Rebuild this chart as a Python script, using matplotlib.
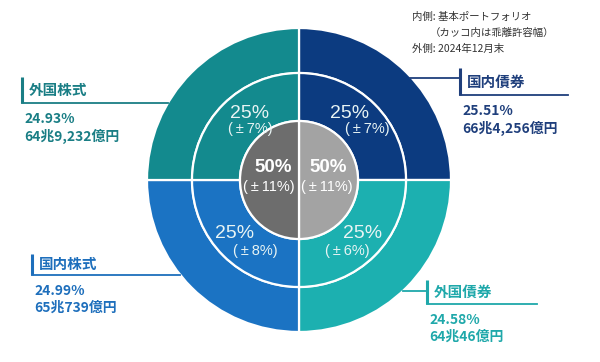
import matplotlib
matplotlib.use('Agg')
import matplotlib.pyplot as plt

plt.rcParams['font.family'] = ['Noto Sans CJK JP', 'DejaVu Sans']

# asset classes, clockwise from 12 o'clock
assets = ['国内債券', '外国債券', '国内株式', '外国株式']
policy = [25, 25, 25, 25]                  # basic portfolio (middle ring)
bands = ['±7%', '±6%', '±8%', '±7%']       # allowed deviation
actual_pct = ['25.51%', '24.58%', '24.99%', '24.93%']   # end of Dec 2024
actual_amt = ['66兆4,256億円', '64兆46億円', '65兆739億円', '64兆9,232億円']

# inner circle: bonds vs stocks
halves = [50, 50]
half_bands = ['±11%', '±11%']

colors = ['#0c3b80', '#1cb0b0', '#1b73c3', '#138a8e']
label_colors = ['#1f3f7c', '#1fa8aa', '#1e6fbc', '#1a7e85']
half_colors = ['#a3a3a3', '#6d6d6d']

W, H = 600, 362
cx, cy = 299, H - 180
r_out, r_mid, r_in = 152, 107, 59

fig = plt.figure(figsize=(6, 3.62), dpi=100)
ax = fig.add_axes([0, 0, 1, 1])

wp = dict(edgecolor='white', linewidth=1.6)
# outer ring drawn with equal quarters like the original
ax.pie(policy, radius=r_out, center=(cx, cy), colors=colors, startangle=90,
       counterclock=False, wedgeprops=dict(width=r_out - r_mid, **wp))
ax.pie(policy, radius=r_mid, center=(cx, cy), colors=colors, startangle=90,
       counterclock=False, wedgeprops=dict(width=r_mid - r_in, **wp))
ax.pie(halves, radius=r_in, center=(cx, cy), colors=half_colors, startangle=90,
       counterclock=False, wedgeprops=wp)

ax.set_xlim(0, W)
ax.set_ylim(0, H)
ax.set_aspect('equal')
ax.axis('off')

num_font = ['Liberation Sans', 'DejaVu Sans']
ring_txt = '#e8f4f4'
ts = '\u2009'


def band_text(b):
    return f'({ts}{b[0]}{ts}{b[1:]})'


# middle ring labels (x, y of "25%", x, y of band)
mid_pos = [(350, 113, 367, 129), (363, 233, 347, 251),
           (235, 233, 255, 251), (250, 113, 250, 129)]
for i in range(len(assets)):
    x1, y1, x2, y2 = mid_pos[i]
    ax.text(x1, H - y1, f'{policy[i]}%', color=ring_txt, fontsize=14,
            family=num_font, ha='center', va='center')
    ax.text(x2, H - y2, band_text(bands[i]), color=ring_txt,
            fontsize=10.5, family=num_font, ha='center', va='center')

half_pos = [(328, 167, 327, 187), (273, 167, 269, 187)]
for i in range(len(halves)):
    x1, y1, x2, y2 = half_pos[i]
    ax.text(x1, H - y1, f'{halves[i]}%', color='white', fontsize=13.5,
            family=num_font, fontweight='bold', ha='center', va='center')
    ax.text(x2, H - y2, band_text(half_bands[i]), color='white',
            fontsize=10.5, family=num_font, ha='center', va='center')

# callouts: bar x, bar top, bar bottom, line end x, connector (y, x start) or None
callouts = [
    (460, 68, 95, 568, (78, 410)),
    (427, 280, 304, 537, (291, 403)),
    (32, 254, 275, 180, None),
    (22, 77, 103, 168, None),
]
for i, (bx, yt, yb, xe, conn) in enumerate(callouts):
    c = label_colors[i]
    ax.plot([bx, bx], [H - yt, H - yb], color=c, lw=2.2, solid_capstyle='butt')
    ax.plot([bx, xe], [H - yb, H - yb], color=c, lw=1.3)
    if conn:
        ax.plot([conn[1], bx], [H - conn[0], H - conn[0]], color=c, lw=1.3)
    ax.text(bx + 7, H - (yt + yb) / 2, assets[i], color=c, fontsize=10.5,
            fontweight='bold', ha='left', va='center')
    ax.text(bx + 2, H - (yb + 16), actual_pct[i], color=c, fontsize=10,
            fontweight='bold', ha='left', va='center')
    ax.text(bx + 2, H - (yb + 33), actual_amt[i], color=c, fontsize=10,
            fontweight='bold', ha='left', va='center')

# note at top right
note = '#333333'
ax.text(412, H - 17, '内側: 基本ポートフォリオ', color=note, fontsize=7.5,
        ha='left', va='center')
ax.text(430, H - 33, '（カッコ内は乖離許容幅）', color=note, fontsize=7.5,
        ha='left', va='center')
ax.text(412, H - 49, '外側: 2024年12月末', color=note, fontsize=7.5,
        ha='left', va='center')

fig.savefig('out.png', dpi=100)
